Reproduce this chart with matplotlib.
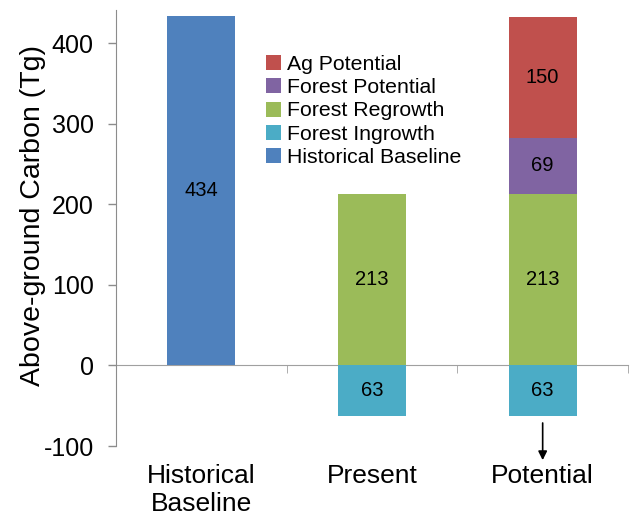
import matplotlib
matplotlib.use("Agg")
import matplotlib.pyplot as plt
from matplotlib.patches import Patch
from matplotlib.transforms import blended_transform_factory

plt.rcParams['font.family'] = ['Liberation Sans', 'DejaVu Sans']
plt.rcParams['axes.unicode_minus'] = False

categories = ["Historical\nBaseline", "Present", "Potential"]
historical_baseline = [434, 0, 0]
forest_ingrowth = [0, -63, -63]
forest_regrowth = [0, 213, 213]
forest_potential = [0, 0, 69]
ag_potential = [0, 0, 150]

series_names = ["Ag Potential", "Forest Potential", "Forest Regrowth",
                "Forest Ingrowth", "Historical Baseline"]
colors = {
    "Historical Baseline": "#4F81BD",
    "Forest Ingrowth": "#4BACC6",
    "Forest Regrowth": "#9BBB59",
    "Forest Potential": "#8064A2",
    "Ag Potential": "#C0504D",
}
yticks = [-100, 0, 100, 200, 300, 400]

fig = plt.figure(figsize=(6.33, 5.18), dpi=100)
ax = fig.add_axes([116 / 633, 72 / 518, 512 / 633, 436 / 518])

x = list(range(len(categories)))
w = 0.40

def draw(vals, bottom, name):
    bars = ax.bar(x, vals, w, bottom=bottom, color=colors[name], linewidth=0, zorder=2)
    for b, v, b0 in zip(bars, vals, bottom):
        if v != 0:
            ax.text(b.get_x() + b.get_width() / 2, b0 + v / 2, f"{abs(v)}",
                    ha="center", va="center", fontsize=14.5, color="black", zorder=3)

zeros = [0, 0, 0]
draw(historical_baseline, zeros, "Historical Baseline")
draw(forest_ingrowth, zeros, "Forest Ingrowth")
draw(forest_regrowth, zeros, "Forest Regrowth")
pot_bottom = [r for r in forest_regrowth]
draw(forest_potential, pot_bottom, "Forest Potential")
ag_bottom = [a + b for a, b in zip(forest_regrowth, forest_potential)]
draw(ag_potential, ag_bottom, "Ag Potential")

ax.set_xlim(-0.5, 2.5)
ax.set_ylim(-100, 441)
ax.set_yticks(yticks)
ax.tick_params(axis="y", direction="out", length=6, width=1, color="#8c8c8c",
               labelsize=18, pad=10)

# category axis sits on the zero line
for s in ("top", "right"):
    ax.spines[s].set_visible(False)
ax.spines["left"].set_color("#8c8c8c")
ax.spines["bottom"].set_position(("data", 0))
ax.spines["bottom"].set_color("#a0a0a0")
ax.spines["bottom"].set_zorder(1)
ax.set_xticks([0.5, 1.5, 2.5], minor=True)
ax.set_xticks(x)
ax.set_xticklabels([])
ax.tick_params(axis="x", which="major", length=0)
ax.tick_params(axis="x", which="minor", direction="out", length=6, color="#a0a0a0")

trans = blended_transform_factory(ax.transData, ax.transAxes)
for xi, lab in zip(x, categories):
    ax.text(xi, -0.042, lab, transform=trans, ha="center", va="top",
            fontsize=19, linespacing=1.2)

ax.set_ylabel("Above-ground Carbon (Tg)", fontsize=20.5)
ax.yaxis.set_label_coords(-0.137, 0.528)

# arrow under the potential column
ax.annotate("", xy=(2, -121), xytext=(2, -68),
            arrowprops=dict(arrowstyle="-|>", color="black", lw=1.2,
                            mutation_scale=13),
            annotation_clip=False)

handles = [Patch(facecolor=colors[n], edgecolor="none") for n in series_names]
ax.legend(handles, series_names, loc="upper left",
          bbox_to_anchor=((266 - 116) / 512, (446 - 55) / 436),
          frameon=False, fontsize=15.3, handlelength=0.7, handleheight=0.7,
          handletextpad=0.28, labelspacing=0.2, borderpad=0, borderaxespad=0)

fig.savefig("out.png", dpi=100)
